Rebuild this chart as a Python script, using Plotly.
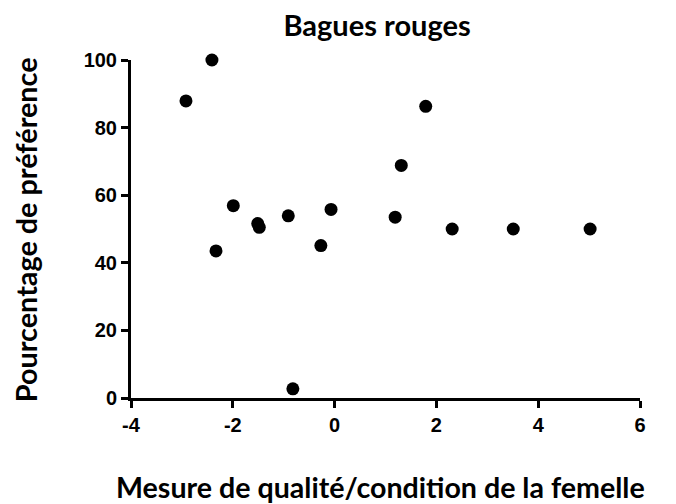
import plotly.graph_objects as go

# Data
quality = [-2.92, -2.41, -2.33, -1.99, -1.51, -1.48, -0.91, -0.82, -0.27, -0.07,
           1.19, 1.31, 1.79, 2.31, 3.51, 5.02]
preference = [87.9, 100.0, 43.5, 56.9, 51.6, 50.5, 53.9, 2.7, 45.1, 55.8,
              53.5, 68.8, 86.3, 50.0, 50.0, 50.0]

x_ticks = [-4, -2, 0, 2, 4, 6]
x_tick_labels = ["-4", "-2", "0", "2", "4", "6"]
y_ticks = [0, 20, 40, 60, 80, 100]
y_tick_labels = ["0", "20", "40", "60", "80", "100"]

title_text = "Bagues rouges"
x_title = "Mesure de qualité/condition de la femelle"
y_title = "Pourcentage de préférence"

TITLE_FONT = "Lato, 'Open Sans', sans-serif"
TICK_FONT = "'Liberation Sans', Arial, sans-serif"

fig = go.Figure()
fig.add_trace(go.Scatter(
    x=quality, y=preference, mode="markers",
    marker=dict(color="black", size=13, line=dict(width=0)),
    cliponaxis=False, showlegend=False,
))

axis_common = dict(
    showline=True, linecolor="black", linewidth=3,
    ticks="outside", ticklen=7, tickwidth=3, tickcolor="black",
    showgrid=False, zeroline=False, automargin=False,
    tickfont=dict(family=TICK_FONT, size=20, color="black", weight="bold"),
)

fig.update_layout(
    width=676, height=504,
    paper_bgcolor="white", plot_bgcolor="white",
    margin=dict(l=123, r=44, t=52, b=114),
    title=dict(text=title_text, x=0.546, xanchor="center", y=0.964, yanchor="middle",
               font=dict(family=TITLE_FONT, size=29, color="black", weight="bold")),
    xaxis=dict(range=[-4, 6], tickvals=x_ticks, ticktext=x_tick_labels, **axis_common),
    yaxis=dict(range=[0, 100], tickvals=y_ticks, ticktext=y_tick_labels, **axis_common),
    annotations=[
        dict(text=x_title, xref="paper", yref="paper", x=0.491, y=-0.262,
             xanchor="center", yanchor="middle", showarrow=False,
             font=dict(family=TITLE_FONT, size=28.6, color="black", weight="bold")),
        dict(text=y_title, xref="paper", yref="paper", x=-0.206, y=0.497,
             xanchor="center", yanchor="middle", showarrow=False, textangle=-90,
             font=dict(family=TITLE_FONT, size=28.8, color="black", weight="bold")),
    ],
)

fig.write_html("out.html")
